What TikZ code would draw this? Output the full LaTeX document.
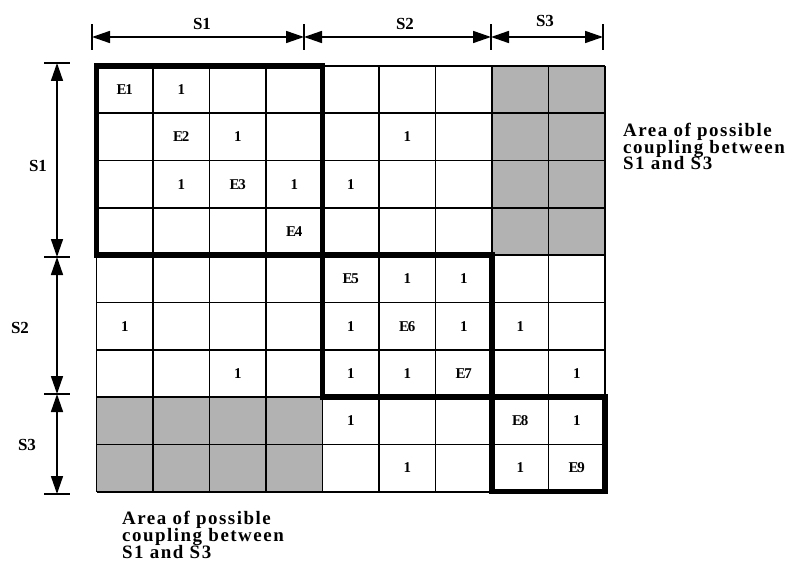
\documentclass[tikz,border=0pt]{standalone}
\usepackage{fontspec}
\setmainfont{Liberation Serif}
\newfontfamily\tightfont{Liberation Serif}[LetterSpace=-9]
\newfontfamily\widefont{Liberation Serif}[LetterSpace=8]
\usetikzlibrary{arrows.meta}
\definecolor{couplegray}{gray}{0.70}
\tikzset{
  gridline/.style={line width=1.6bp},
  thickbox/.style={line width=5.5bp,line join=miter},
  dimline/.style={line width=1.6bp,{Triangle[length=18bp,width=12bp]}-{Triangle[length=18bp,width=12bp]}},
  dimtick/.style={line width=1.6bp},
  celltxt/.style={inner sep=0pt,font=\fontsize{15}{15}\selectfont\bfseries},
  dimlabel/.style={inner sep=0pt,font=\fontsize{17}{17}\selectfont\bfseries},
  areanote/.style={inner sep=0pt,anchor=base west,align=left,
    font={\fontsize{19}{15}\widefont\bfseries\lineskiplimit=-100pt\relax}},
}
\begin{document}
\begin{tikzpicture}[x=1bp,y=-1bp]
\useasboundingbox (0,0) rectangle (806,570);
\def\xo{96.5}\def\yo{66}\def\cw{56.5}\def\rh{47.3}
% shaded coupling blocks
\fill[couplegray] ({\xo+7*\cw},\yo) rectangle ({\xo+9*\cw},{\yo+4*\rh});
\fill[couplegray] (\xo,{\yo+7*\rh}) rectangle ({\xo+4*\cw},{\yo+9*\rh});
% grid
\foreach \i in {0,...,9} {
  \draw[gridline] ({\xo+\i*\cw},\yo) -- ({\xo+\i*\cw},{\yo+9*\rh});
  \draw[gridline] (\xo,{\yo+\i*\rh}) -- ({\xo+9*\cw},{\yo+\i*\rh});
}
% subsystem blocks
\draw[thickbox] (\xo,\yo) rectangle ({\xo+4*\cw},{\yo+4*\rh});
\draw[thickbox] ({\xo+4*\cw},{\yo+4*\rh}) rectangle ({\xo+7*\cw},{\yo+7*\rh});
\draw[thickbox] ({\xo+7*\cw},{\yo+7*\rh}) rectangle ({\xo+9*\cw},{\yo+9*\rh});
% entries
\foreach \r/\c/\t in {0/0/E1,1/1/E2,2/2/E3,3/3/E4,4/4/E5,5/5/E6,6/6/E7,7/7/E8,8/8/E9}
  \node[celltxt] (m\r\c) at ({\xo+(\c+0.5)*\cw},{\yo+(\r+0.5)*\rh}) {\tightfont\bfseries\t};
\foreach \r/\c in {0/1,1/2,1/5,2/1,2/3,2/4,4/5,4/6,5/0,5/4,5/6,5/7,6/2,6/4,6/5,6/8,7/4,7/8,8/5,8/7}
  \node[celltxt] (m\r\c) at ({\xo+(\c+0.5)*\cw},{\yo+(\r+0.5)*\rh}) {1};
% top dimensions
\coordinate (t0) at (92,37);
\coordinate (t1) at (304,37);
\coordinate (t2) at (491,37);
\coordinate (t3) at (603,37);
\foreach \p in {t0,t1,t2,t3}
  \draw[dimtick] ([yshift=-13bp]\p) -- ([yshift=13bp]\p);
\draw[dimline] (t0) -- (t1);
\draw[dimline] (t1) -- (t2);
\draw[dimline] (t2) -- (t3);
\node[dimlabel] (ts1) at (202,24) {S1};
\node[dimlabel] (ts2) at (405,24) {S2};
\node[dimlabel] (ts3) at (545,21) {S3};
% left dimensions
\coordinate (l0) at (57,63);
\coordinate (l1) at (57,257);
\coordinate (l2) at (57,394);
\coordinate (l3) at (57,494);
\foreach \p in {l0,l1,l2,l3}
  \draw[dimtick] ([xshift=-13bp]\p) -- ([xshift=13bp]\p);
\draw[dimline] (l0) -- (l1);
\draw[dimline] (l1) -- (l2);
\draw[dimline] (l2) -- (l3);
\node[dimlabel] (ls1) at (38,166) {S1};
\node[dimlabel] (ls2) at (20,328) {S2};
\node[dimlabel] (ls3) at (27,445) {S3};
% notes
\node[areanote] (nright) at (623,170) {Area of possible\\[2bp]coupling between\\[2bp]S1 and S3};
\node[areanote] (nbottom) at (122,558) {Area of possible\\[2bp]coupling between\\[2bp]S1 and S3};
\end{tikzpicture}
\end{document}
